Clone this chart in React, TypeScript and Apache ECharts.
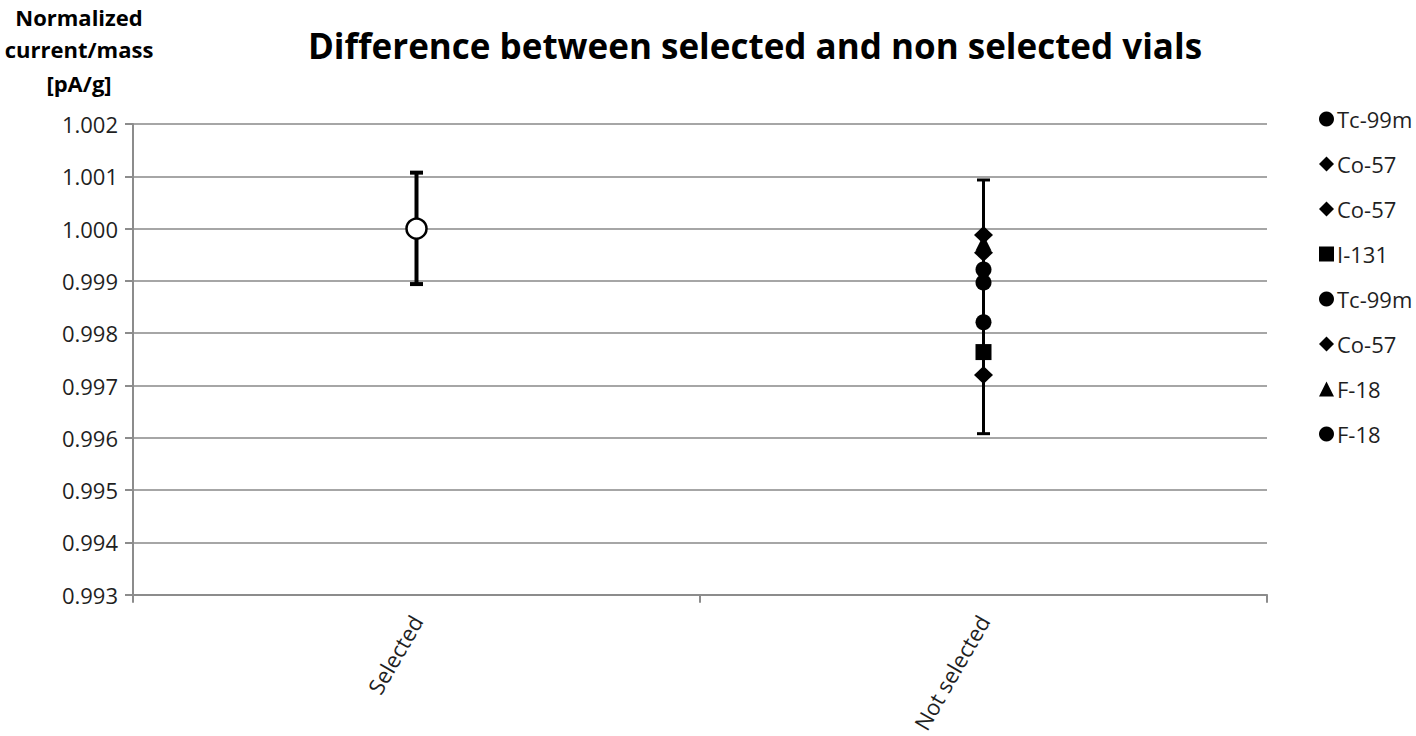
import React, { useEffect, useRef } from "react";
import * as echarts from "echarts";

// ---- data ----
const categories = ["Selected", "Not selected"];
const yMin = 0.993;
const yMax = 1.002;
const yInterval = 0.001;
const selectedValue = 1.0;
const seriesLabels = ["Tc-99m", "Co-57", "Co-57", "I-131", "Tc-99m", "Co-57", "F-18", "F-18"];
const seriesSymbols = ["circle", "diamond", "diamond", "rect", "circle", "diamond", "triangle", "circle"];
const notSelectedValues = [0.99821, 0.99988, 0.99954, 0.99764, 0.99897, 0.9972, 0.99973, 0.99922];
const errorLow = [0.99894, 0.99608];
const errorHigh = [1.00107, 1.00093];

const titleText = "Difference between selected and non selected vials";
const yAxisTitleLines = ["Normalized", "current/mass", "[pA/g]"];

const FONT = "'Open Sans', sans-serif";
const errorLineWidths = [4, 3];

export default function App() {
  const ref = useRef<HTMLDivElement>(null);
  useEffect(() => {
    if (!ref.current) return;
    const chart = echarts.init(ref.current, null, { renderer: "svg" });

    const symbolSizes: Record<string, number | number[]> = {
      circle: 16,
      diamond: [19, 18],
      rect: 16,
      triangle: 16,
    };

    const pointSeries = seriesLabels.map((label, i) => ({
      type: "scatter",
      name: `${label}#${i}`,
      symbol: seriesSymbols[i],
      symbolSize: symbolSizes[seriesSymbols[i]],
      itemStyle: { color: "#000", opacity: 1 },
      data: [[1, notSelectedValues[i]]],
      z: 5,
    }));

    const axisTitleY = [17, 49, 83];

    const option: any = {
      animation: false,
      textStyle: { fontFamily: FONT },
      grid: { left: 133, right: 149, top: 124, bottom: 139, containLabel: false },
      xAxis: {
        type: "category",
        data: categories,
        boundaryGap: true,
        axisLine: { lineStyle: { color: "#8c8c8c", width: 2 } },
        axisTick: { show: true, length: 8, lineStyle: { color: "#8c8c8c", width: 2 } },
        axisLabel: {
          rotate: 60,
          margin: 22,
          fontSize: 22,
          color: "#1f1f1f",
          fontFamily: FONT,
        },
        splitLine: { show: false },
      },
      yAxis: {
        type: "value",
        min: yMin,
        max: yMax,
        interval: yInterval,
        axisLine: { show: true, lineStyle: { color: "#8c8c8c", width: 2 } },
        axisTick: { show: true, length: 8, lineStyle: { color: "#8c8c8c", width: 2 } },
        axisLabel: {
          margin: 15,
          fontSize: 22,
          color: "#1f1f1f",
          fontFamily: FONT,
          formatter: (v: number) => v.toFixed(3),
        },
        splitLine: { show: true, lineStyle: { color: "#a6a6a6", width: 2 } },
      },
      legend: {
        orient: "vertical",
        left: 1314,
        top: 103,
        itemWidth: 15,
        itemHeight: 15,
        itemGap: 23,
        data: seriesLabels.map((l, i) => `${l}#${i}`),
        formatter: (n: string) => n.split("#")[0],
        itemStyle: { opacity: 1 },
        textStyle: { fontSize: 22, color: "#1f1f1f", fontFamily: FONT, padding: [0, 0, 0, -2] },
      },
      graphic: [
        {
          type: "text",
          x: 755,
          y: 45,
          style: {
            text: titleText,
            fontSize: 35,
            fontWeight: "bold",
            fontFamily: FONT,
            fill: "#000",
            textAlign: "center",
            textVerticalAlign: "middle",
          },
        },
        ...yAxisTitleLines.map((t, i) => ({
          type: "text",
          x: 79,
          y: axisTitleY[i],
          style: {
            text: t,
            fontSize: 22,
            fontWeight: "bold",
            fontFamily: FONT,
            fill: "#000",
            textAlign: "center",
            textVerticalAlign: "middle",
          },
        })),
      ],
      series: [
        {
          type: "custom",
          name: "errorbars",
          encode: { x: 0, y: [1, 2] },
          data: errorLow.map((lo, i) => [i, lo, errorHigh[i]]),
          z: 2,
          renderItem: (params: any, api: any) => {
            const x = api.value(0);
            const pLo = api.coord([x, api.value(1)]);
            const pHi = api.coord([x, api.value(2)]);
            const lw = errorLineWidths[params.dataIndex] ?? 3;
            const w = 6.5;
            const st = { stroke: "#000", lineWidth: lw };
            return {
              type: "group",
              children: [
                { type: "line", shape: { x1: pHi[0], y1: pHi[1], x2: pLo[0], y2: pLo[1] }, style: st },
                { type: "line", shape: { x1: pHi[0] - w, y1: pHi[1], x2: pHi[0] + w, y2: pHi[1] }, style: st },
                { type: "line", shape: { x1: pLo[0] - w, y1: pLo[1], x2: pLo[0] + w, y2: pLo[1] }, style: st },
              ],
            };
          },
        },
        {
          type: "scatter",
          name: "Selected",
          symbol: "circle",
          symbolSize: 20,
          itemStyle: { color: "#fff", borderColor: "#000", borderWidth: 2.5, opacity: 1 },
          data: [[0, selectedValue]],
          z: 5,
        },
        ...pointSeries,
      ],
    };

    chart.setOption(option);
    return () => chart.dispose();
  }, []);

  return (
    <div
      ref={ref}
      style={{ position: "fixed", left: 0, top: 0, width: 1416, height: 736, background: "#fff" }}
    />
  );
}
